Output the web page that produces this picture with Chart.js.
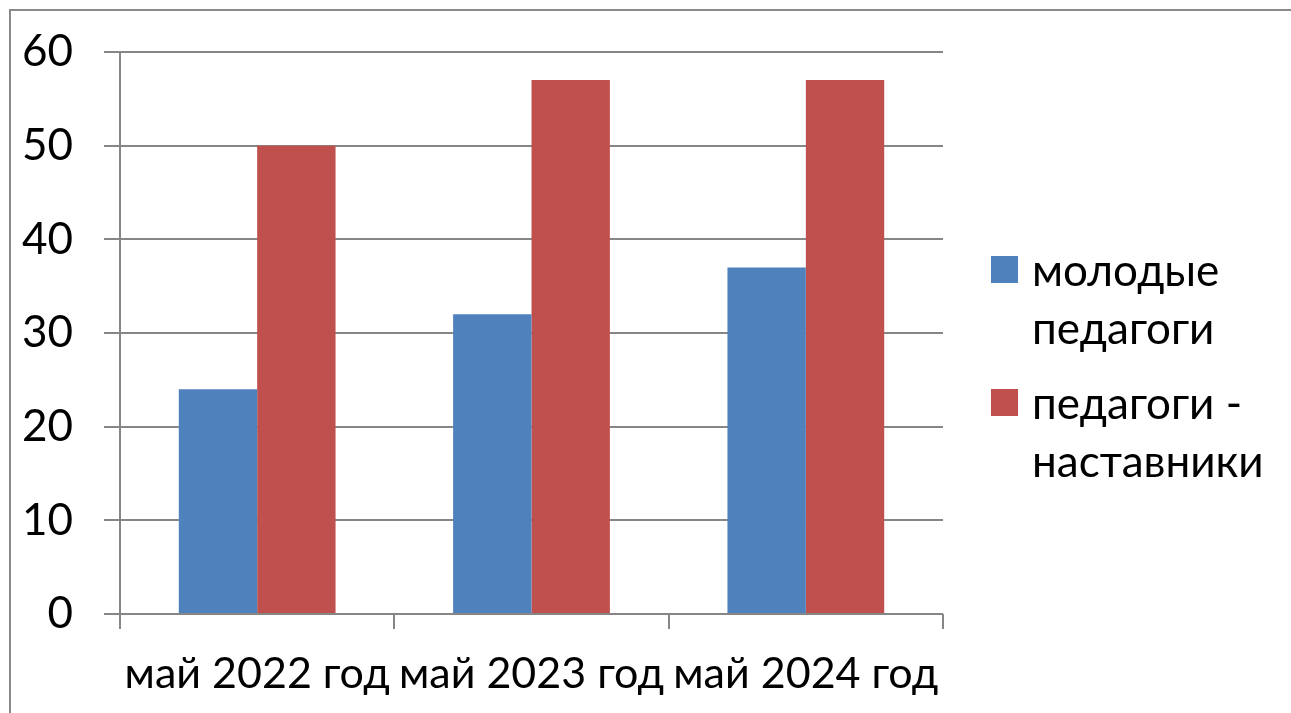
<!DOCTYPE html>
<html>
<head>
<meta charset="utf-8">
<script src="https://cdn.jsdelivr.net/npm/chart.js@4/dist/chart.umd.min.js"></script>
<style>
  html, body { margin: 0; padding: 0; background: #fff; overflow: hidden; }
  #wrap { position: relative; width: 1291px; height: 713px; }
  #frame { position: absolute; left: 9px; top: 9px; width: 1400px; height: 800px;
           border-top: 2px solid #8a8a8a; border-left: 2px solid #8a8a8a; pointer-events: none; }
</style>
</head>
<body>
<div id="wrap">
  <canvas id="chart" width="1291" height="713"></canvas>
  <div id="frame"></div>
</div>
<script>
// data
const categories = ['май 2022 год', 'май 2023 год', 'май 2024 год'];
const youngTeachers = [24, 32, 37];
const mentorTeachers = [50, 57, 57];
const seriesNames = [['молодые', 'педагоги'], ['педагоги -', 'наставники']];
const yTicks = [0, 10, 20, 30, 40, 50, 60];

const BLUE = '#4F81BD';
const RED = '#C0504D';
const GRID = '#868686';
const FONT = 'Lato, "Open Sans", sans-serif';

// legend drawn on the right, two lines per entry
const sideLegend = {
    id: 'sideLegend',
    afterDraw(chart) {
        const ctx = chart.ctx;
        const rows = [{ top: 256, lineY: [272, 330] }, { top: 389, lineY: [405, 463] }];
        ctx.save();
        ctx.font = '44px ' + FONT;
        ctx.textBaseline = 'middle';
        ctx.textAlign = 'left';
        chart.data.datasets.forEach((ds, i) => {
            ctx.fillStyle = ds.backgroundColor;
            ctx.fillRect(991, rows[i].top, 27, 27);
            ctx.fillStyle = '#000';
            ds.label.forEach((line, j) => ctx.fillText(line, 1032, rows[i].lineY[j]));
        });
        ctx.restore();
    }
};

const ctx = document.getElementById('chart').getContext('2d');
new Chart(ctx, {
    type: 'bar',
    data: {
        labels: categories,
        datasets: [
            { label: seriesNames[0], data: youngTeachers, backgroundColor: BLUE, barPercentage: 1, categoryPercentage: 2 / 3.5 },
            { label: seriesNames[1], data: mentorTeachers, backgroundColor: RED, barPercentage: 1, categoryPercentage: 2 / 3.5 }
        ]
    },
    options: {
        responsive: false, animation: false,
        layout: { padding: { top: 52, right: 348, left: 0, bottom: 0 } },
        plugins: { legend: { display: false }, tooltip: { enabled: false } },
        scales: {
            x: {
                offset: true,
                grid: { offset: true, drawOnChartArea: false, drawTicks: true, tickLength: 15, color: GRID, lineWidth: 2 },
                border: { display: false },
                ticks: { color: '#000', font: { family: FONT, size: 43 }, padding: 19, maxRotation: 0, autoSkip: false },
                afterFit: s => { s.height = 99; s.paddingLeft = 0; s.paddingRight = 0; }
            },
            y: {
                min: 0, max: 60,
                afterBuildTicks: s => { s.ticks = yTicks.map(v => ({ value: v })); },
                grid: { color: GRID, lineWidth: 2, tickLength: 16 },
                border: { color: GRID, width: 2 },
                ticks: { color: '#000', font: { family: FONT, size: 44 }, padding: 31 },
                afterFit: s => { s.width = 120; s.paddingTop = 0; s.paddingBottom = 0; }
            }
        }
    },
    plugins: [sideLegend]
});
</script>
</body>
</html>
